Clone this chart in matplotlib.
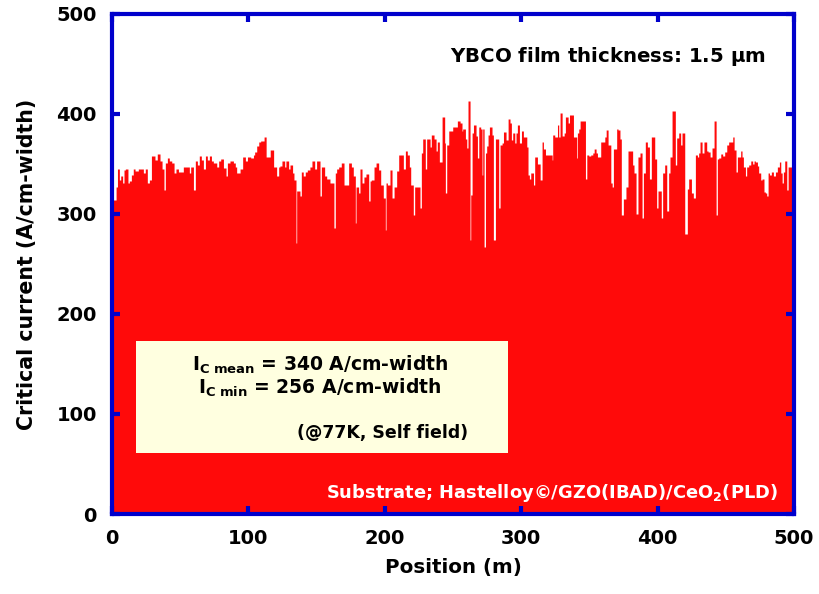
import matplotlib
matplotlib.use("Agg")
import matplotlib.pyplot as plt
from matplotlib.patches import Rectangle

# Step data: start position (m) of each level, critical current (A/cm-width)
position_m = [
    0, 3.0, 4.0, 5.4, 6.4, 7.8, 8.8, 9.8, 11.7, 12.7, 14.2, 15.6, 16.9, 19.3, 23.0, 24.4,
    25.9, 27.4, 28.9, 31.5, 33.2, 35.2, 36.7, 38.1, 39.1, 40.6, 42.0, 43.8, 45.5, 46.9,
    48.7, 52.3, 56.7, 57.7, 59.7, 61.1, 62.6, 64.0, 65.5, 67.0, 68.5, 69.9, 71.4, 72.9,
    74.3, 76.8, 78.2, 79.7, 81.7, 83.6, 84.6, 86.5, 89.0, 90.4, 91.4, 93.9, 95.8, 97.8,
    99.3, 101.7, 103.7, 104.6, 106.1, 107.6, 109.0, 111.5, 113.0, 116.0, 118.5,
    120.7, 122.2, 123.1, 124.6, 126.6, 127.5, 129.5, 130.5, 132.4, 133.4, 134.9, 135.4,
    137.8, 138.8, 140.2, 141.7, 143.2, 145.1, 146.6, 148.6, 150.0, 152.5, 153.5, 155.9,
    157.4, 159.8, 162.7, 163.7, 164.7, 166.2, 168.1, 170.1, 173.5, 175.5, 176.9, 178.4,
    178.9, 180.8, 181.8, 183.3, 184.7, 186.2, 188.2, 189.2, 190.1, 192.1, 193.6, 195.5,
    197.0, 198.9, 200.4, 200.9, 201.9, 203.8, 205.3, 206.8, 208.7, 210.2, 213.6, 215.1,
    216.5, 218.0, 219.0, 220.9, 221.9, 225.8, 226.8, 227.8, 229.7, 230.7, 233.2, 234.1,
    236.1, 237.6, 238.5, 240.0, 242.0, 243.9, 244.4, 245.4,
    246.9, 249.8, 253.2, 255.2, 256.6, 257.1, 259.1, 260.1, 261.0, 262.5, 263.0, 264.0,
    265.0, 266.9, 267.9, 268.9, 270.3, 271.3, 271.8, 272.8, 273.8, 274.7, 275.7, 276.7,
    278.6, 279.6, 281.1, 283.5, 284.5, 286.0, 287.0, 288.9, 290.4, 291.8, 292.8, 293.8,
    295.3, 296.2, 297.2, 298.7, 300.2, 301.6, 304.1, 305.0, 306.0, 307.0, 309.0, 309.9,
    311.9, 313.9, 315.3, 316.3, 317.8, 322.7, 323.1, 324.6, 326.6, 327.5, 328.5, 330.0,
    331.5, 332.4, 334.4, 335.4, 338.3, 340.7, 341.2, 342.2, 343.2, 347.1, 348.1, 349.5,
    351.0, 352.5, 353.5, 354.9, 355.9, 358.3, 361.3, 362.3, 363.7, 365.7, 366.7, 367.6,
    370.0, 371.0, 372.4, 373.4, 374.9, 376.8, 378.3, 381.7, 382.7, 384.2, 385.6, 387.1,
    388.6, 389.6, 391.0, 392.5, 394.0, 395.4, 397.9, 399.3, 400.3, 402.7, 403.7, 405.2,
    406.7, 408.1, 409.1, 410.6, 413.0, 414.0, 415.5, 416.9, 417.9, 419.9, 421.8, 422.8,
    424.8, 426.2, 427.7, 429.2, 430.1, 431.1, 432.6, 434.0, 436.0, 437.0, 438.5, 439.9,
    441.4, 442.9, 443.8, 444.8, 446.3, 447.7, 449.2, 450.7, 452.1, 455.1, 456.1, 457.5,
    458.5, 460.9, 461.9, 462.9, 464.4, 465.3, 466.8, 468.3, 469.7, 470.7, 471.7, 473.2,
    474.1, 475.6, 476.6, 478.0, 479.0, 480.0, 481.0, 482.0, 483.4, 484.9, 486.4, 487.8,
    489.3, 490.3, 491.3, 492.2, 493.2, 494.7, 495.7, 500.0,
]
critical_current = [
    314, 327, 345, 334, 338, 331, 344, 345, 331, 333, 339, 345, 343, 345, 341, 345,
    331, 334, 358, 354, 360, 353, 345, 324, 351, 356, 353, 351, 341, 345,
    342, 347, 341, 347, 324, 353, 349, 358, 354, 345, 358, 354, 358, 353,
    351, 347, 353, 355, 346, 338, 351, 353, 351, 347, 341, 345, 357, 353,
    357, 356, 359, 362, 368, 372, 373, 377, 357, 364, 347,
    338, 347, 348, 353, 347, 353, 345, 349, 341, 334, 271, 323,
    318, 342, 338, 342, 344, 347, 353, 345, 353, 318, 347, 338,
    335, 331, 286, 341, 345, 347, 351, 329, 351, 347, 338, 291,
    327, 321, 345, 331, 337, 340, 313, 333, 334, 347, 351, 344,
    329, 316, 284, 331, 329, 344, 316, 327, 343, 359, 345, 363,
    359, 347, 329, 299, 327, 306, 361, 375, 345, 375, 367, 379,
    375, 363, 372, 352, 397, 371, 321, 369,
    383, 387, 393, 391, 383, 385, 375, 366, 413, 274, 319, 381,
    389, 378, 356, 387, 385, 339, 385, 267, 361, 368, 379, 387,
    379, 274, 375, 306, 369, 371, 382, 374, 395, 391, 374, 381,
    371, 381, 389, 371, 383, 377, 367, 339, 335, 341, 329, 357,
    350, 334, 372, 365, 359, 354, 379, 377, 389, 377, 401, 378,
    381, 397, 391, 399, 377, 356, 381, 385, 393, 335, 359, 358,
    359, 361, 365, 361, 357, 372, 377, 384, 369, 331, 327, 365,
    385, 384, 375, 299, 315, 327, 363, 349, 341, 300, 357, 361,
    296, 341, 372, 367, 335, 377, 355, 306, 323, 296, 341, 349,
    303, 341, 357, 403, 349, 376, 381, 369, 381, 280, 325, 335,
    321, 316, 359, 357, 361, 372, 361, 372, 363, 362, 357, 366,
    393, 299, 355, 356, 360, 358, 362, 369, 372, 377, 364, 342,
    357, 363, 357, 347, 338, 347, 349, 353, 350, 353, 352, 348,
    341, 334, 335, 322, 321, 318, 341, 339, 342, 338, 342, 347,
    352, 341, 331, 342, 353, 324, 347, 347,
]

x_ticks = [0, 100, 200, 300, 400, 500]
y_ticks = [0, 100, 200, 300, 400, 500]

RED = "#ff0a0a"
BLUE = "#0000cc"

fig = plt.figure(figsize=(8.19, 5.94), dpi=100)
ax = fig.add_axes([112/819, 1 - 514/594, (794 - 112)/819, (514 - 14)/594])

ax.fill_between(position_m, critical_current, 0, step="post", color=RED,
                linewidth=0, antialiased=True)

ax.set_xlim(0, 500)
ax.set_ylim(0, 500)
ax.set_xticks(x_ticks)
ax.set_yticks(y_ticks)

for s in ax.spines.values():
    s.set_color(BLUE)
    s.set_linewidth(3.0)
    s.set_zorder(5)

ax.tick_params(axis="both", which="major", direction="in", length=6, width=3,
               color=BLUE, top=True, right=True, labelsize=14, pad=11)
for lab in ax.get_xticklabels() + ax.get_yticklabels():
    lab.set_fontweight("bold")
ax.tick_params(axis="y", pad=11)

ax.set_xlabel("Position (m)", fontsize=14.3, fontweight="bold", labelpad=7)
ax.set_ylabel("Critical current (A/cm-width)", fontsize=14.8, fontweight="bold", labelpad=14)

ax.text(0.958, 0.915, r"YBCO film thickness: 1.5 $\mathbf{\mu}$m", transform=ax.transAxes,
        ha="right", va="center", fontsize=14.2, fontweight="bold")

ax.text(0.977, 0.042, r"Substrate; Hastelloy©/GZO(IBAD)/CeO$_\mathbf{2}$(PLD)",
        transform=ax.transAxes, ha="right", va="center", fontsize=12.9,
        fontweight="bold", color="white")

# info box
box_x0 = (136 - 112) / 682
box_y0 = (514 - 453) / 500
box_w = (508 - 136) / 682
box_h = (453 - 341) / 500
ax.add_patch(Rectangle((box_x0, box_y0), box_w, box_h, transform=ax.transAxes,
                       facecolor="#ffffe0", edgecolor="none", zorder=3))

ax.text((320 - 112) / 682, (514 - 365) / 500,
        r"I$_{\mathregular{C\ mean}}$ = 340 A/cm-width", transform=ax.transAxes,
        ha="center", va="center", fontsize=13.5, fontweight="bold", zorder=4)
ax.text((320 - 112) / 682, (514 - 388) / 500,
        r"I$_{\mathregular{C\ min}}$ = 256 A/cm-width", transform=ax.transAxes,
        ha="center", va="center", fontsize=13.5, fontweight="bold", zorder=4)
ax.text((383 - 112) / 682, (514 - 433) / 500,
        "(@77K, Self field)", transform=ax.transAxes,
        ha="center", va="center", fontsize=12.5, fontweight="bold", zorder=4)

fig.savefig("out.png", dpi=100)
